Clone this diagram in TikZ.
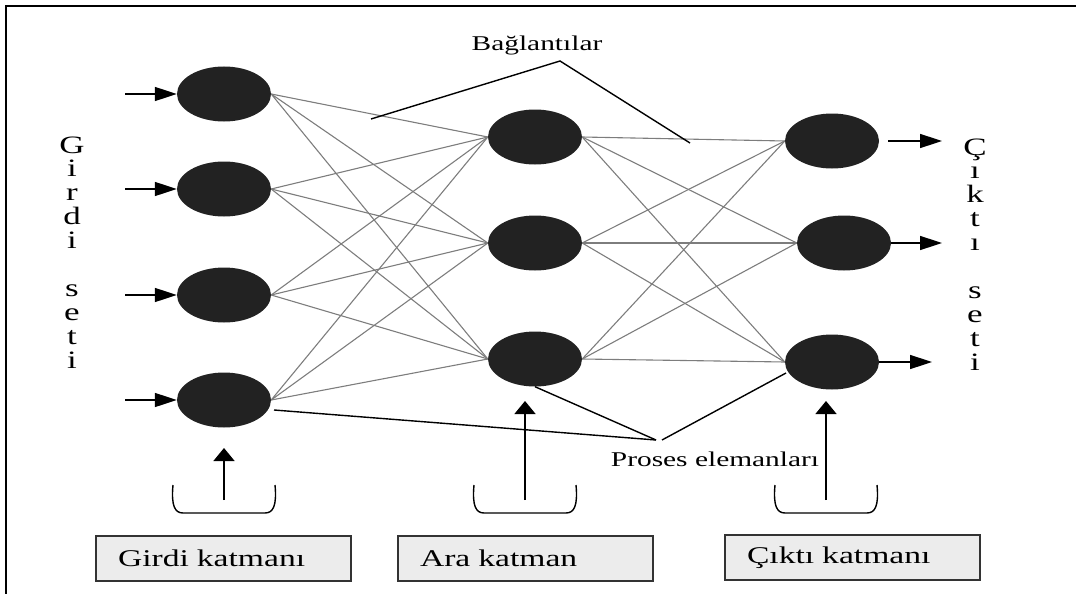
\documentclass[tikz,border=0pt]{standalone}
\usepackage{fontspec}
\setmainfont{Liberation Serif}[FakeStretch=1.4]
\usepackage{tikz}
\usetikzlibrary{shapes.geometric, arrows.meta, positioning}
\definecolor{nodedark}{RGB}{34,34,34}
\definecolor{linkgray}{RGB}{125,125,125}
\definecolor{boxgray}{RGB}{236,236,236}
\tikzset{
  neuron/.style={ellipse, fill=nodedark, draw=none,
    minimum width=94pt, minimum height=55pt, inner sep=0pt},
  link/.style={draw=linkgray, line width=1.1pt},
  note/.style={draw=black, line width=1.4pt},
  sidearrow/.style={-{Triangle[length=22pt,width=14pt]}, line width=1.5pt},
  uparrow/.style={-{Triangle[length=13pt,width=21pt]}, line width=1.5pt},
  layerbox/.style={rectangle, draw=black!80, fill=boxgray, line width=1.2pt,
    minimum height=45pt, text width=211pt, inner xsep=22pt, align=left,
    font=\fontsize{24}{28}\selectfont},
  letter/.style={anchor=base, inner sep=0pt, font=\fontsize{25}{28}\selectfont},
  notetext/.style={inner sep=0pt, font=\fontsize{21}{24}\selectfont},
  bracket/.style={line width=1.4pt}
}

\begin{document}
\begin{tikzpicture}[x=1pt, y=-1pt]
  \useasboundingbox (0,0) rectangle (1076,594);
  % open frame
  \draw[line width=2.5pt] (6,594) -- (6,6) -- (1076,6);

  % layers
  \foreach \k/\yy in {1/94, 2/189, 3/295, 4/400}
    \node[neuron] (in\k) at (224,\yy) {};
  \foreach \k/\yy in {1/137, 2/243, 3/359}
    \node[neuron] (hid\k) at (535,\yy) {};
  \node[neuron] (out1) at (832,141) {};
  \node[neuron] (out2) at (844,243) {};
  \node[neuron] (out3) at (832,362) {};

  % connections
  \foreach \i in {1,...,4}
    \foreach \j in {1,2,3}
      \draw[link] (in\i.east) -- (hid\j.west);
  \foreach \i in {1,2,3}
    \foreach \j in {1,2,3}
      \draw[link] (hid\i.east) -- (out\j.west);

  % input and output arrows
  \foreach \k/\yy in {1/94, 2/189, 3/295, 4/400} {
    \coordinate (src\k) at (125,\yy);
    \draw[sidearrow] (src\k) -- (in\k.west);
  }
  \coordinate (snk1) at (942,141);
  \coordinate (snk2) at (942,243);
  \coordinate (snk3) at (932,362);
  \draw[sidearrow] ([xshift=9pt]out1.east) -- (snk1);
  \draw[sidearrow] (out2.east) -- (snk2);
  \draw[sidearrow] (out3.east) -- (snk3);

  % vertical labels
  \foreach \ch/\yy [count=\k] in {G/153, i/176, r/200, d/224, i/248, s/296, e/320, t/344, i/368}
    \node[letter] (gs\k) at (72,\yy) {\ch};
  \foreach \ch/\yy [count=\k] in {Ç/155, ı/178, k/202, t/226, ı/250, s/298, e/322, t/346, i/370}
    \node[letter] (cs\k) at (975,\yy) {\ch};

  % Baglantilar
  \node[notetext] (baglanti) at (537,45) {Bağlantılar};
  \coordinate (bl) at (371,119);
  \coordinate (bapex) at (560,61);
  \coordinate (br) at (690,143);
  \draw[note] (bl) -- (bapex) -- (br);

  % Proses elemanlari
  \node[notetext] (proses) at (715,459) {Proses elemanları};
  \coordinate (pe1) at (656,440);
  \coordinate (pe2) at (662,440);
  \coordinate (pin) at (274,410);
  \coordinate (pout) at (786,373);
  \draw[note] (pin) -- (pe1);
  \draw[note] (hid3.south) -- (pe1);
  \draw[note] (pout) -- (pe2);

  % brackets and layer arrows
  \foreach \name/\xx/\tip in {gir/224/448, ara/525/401, cik/826/401} {
    \draw[bracket] (\xx-51,485) .. controls (\xx-53,506) and (\xx-49,513) .. (\xx-41,513)
      -- (\xx+41,513) .. controls (\xx+49,513) and (\xx+53,506) .. (\xx+51,485);
    \coordinate (\name tail) at (\xx,500);
    \coordinate (\name tip) at (\xx,\tip);
    \draw[uparrow] (\name tail) -- (\name tip);
  }

  % layer boxes
  \node[layerbox] (girdibox) at (223.5,558.5) {Girdi katmanı};
  \node[layerbox] (arabox) at (525.5,558.5) {Ara katman};
  \node[layerbox] (ciktibox) at (852.5,557.5) {Çıktı katmanı};
\end{tikzpicture}
\end{document}
